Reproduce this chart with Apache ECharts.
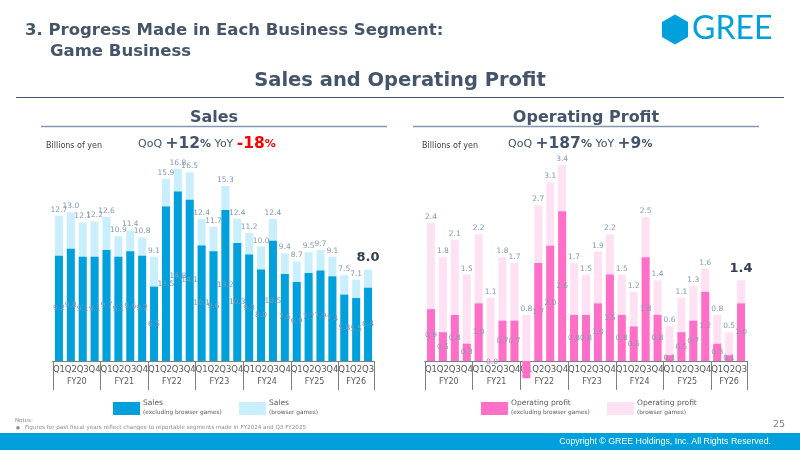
<!DOCTYPE html>
<html>
<head>
<meta charset="utf-8">
<script src="https://cdn.jsdelivr.net/npm/echarts@6/dist/echarts.min.js"></script>
<style>
html,body{margin:0;padding:0;background:#fff;}
#c{width:800px;height:450px;}
</style>
</head>
<body>
<div id="c"></div>
<script>
const fiscalYears = ['FY20','FY21','FY22','FY23','FY24','FY25','FY26'];
const quartersPerYear = [4,4,4,4,4,4,3];
const quarterNames = ['Q1','Q2','Q3','Q4'];
const salesTotal = [12.7,13.0,12.1,12.2, 12.6,10.9,11.4,10.8, 9.1,15.9,16.8,16.5, 12.4,11.7,15.3,12.4, 11.2,10.0,12.4,9.4, 8.7,9.5,9.7,9.1, 7.5,7.1,8.0];
const salesExclBrowser = [9.2,9.8,9.1,9.1, 9.7,9.1,9.6,9.2, 6.5,13.5,14.8,14.1, 10.1,9.6,13.2,10.3, 9.3,8.0,10.5,7.6, 6.9,7.7,7.9,7.4, 5.8,5.5,6.4];
const opTotal = [2.4,1.8,2.1,1.5, 2.2,1.1,1.8,1.7, 0.8,2.7,3.1,3.4, 1.7,1.5,1.9,2.2, 1.5,1.2,2.5,1.4, 0.6,1.1,1.3,1.6, 0.8,0.5,1.4];
const opExclBrowser = [0.9,0.5,0.8,0.3, 1.0,-0.02,0.7,0.7, -0.3,1.7,2.0,2.6, 0.8,0.8,1.0,1.5, 0.8,0.6,1.8,0.8, 0.1,0.5,0.7,1.2, 0.3,0.1,1.0];

const categories = [];
quartersPerYear.forEach(n => { for (let i = 0; i < n; i++) categories.push(quarterNames[i]); });
const boundaries = [0];
quartersPerYear.forEach(n => boundaries.push(boundaries[boundaries.length - 1] + n));
const yearCenters = fiscalYears.map((y, i) => (boundaries[i] + boundaries[i + 1]) / 2);

const FONT = 'DejaVu Sans';
const TITLE = '#44546a';
const LABEL = '#8497b0';
const AXIS = '#7f7f7f';
const fmt = v => Number(v).toFixed(1);

function xAxesFor(gridIndex) {
  return [
    {
      type: 'category', gridIndex, data: categories,
      axisLine: { lineStyle: { color: AXIS, width: 1 } },
      axisTick: { show: false },
      axisLabel: { interval: 0, fontSize: 8.5, color: '#595959', margin: 4, fontFamily: FONT },
      splitLine: { show: false }
    },
    {
      type: 'value', gridIndex, min: 0, max: categories.length, position: 'bottom',
      axisLine: { show: true, lineStyle: { color: AXIS, width: 1 } },
      axisTick: { show: true, customValues: boundaries, length: 29, lineStyle: { color: AXIS, width: 1 } },
      axisLabel: { show: true, customValues: yearCenters, margin: 17, fontSize: 8, color: '#595959', fontFamily: FONT,
        formatter: v => { const i = yearCenters.indexOf(v); return i >= 0 ? fiscalYears[i] : ''; } },
      splitLine: { show: false }
    }
  ];
}

function yAxisFor(gridIndex, min, max) {
  return {
    type: 'value', gridIndex, min, max, show: false,
    splitLine: { show: false }
  };
}

function seriesFor(gridIndex, totals, excl, light, dark) {
  const xi = gridIndex * 2;
  const last = totals.length - 1;
  return [
    {
      type: 'bar', xAxisIndex: xi, yAxisIndex: gridIndex, barWidth: 8, barGap: '-100%', clip: false,
      itemStyle: { color: light },
      label: { show: true, position: 'top', distance: 2, fontSize: 7.5, color: LABEL, fontFamily: FONT, formatter: p => fmt(p.value) },
      data: totals.map((v, i) => i === last
        ? { value: v, label: { fontSize: 13, fontWeight: 'bold', color: '#333f50', distance: 5 } }
        : v),
      z: 2
    },
    {
      type: 'bar', xAxisIndex: xi, yAxisIndex: gridIndex, barWidth: 8, barGap: '-100%', clip: false,
      itemStyle: { color: dark },
      label: { show: true, position: 'inside', fontSize: 7.5, color: LABEL, fontFamily: FONT, formatter: p => fmt(p.value) },
      data: excl.map(v => v < -0.05 ? { value: v, label: { show: false } } : v),
      z: 3
    }
  ];
}

function legendItem(x, color, t1, t2) {
  return [
    { type: 'rect', shape: { x: x, y: 402, width: 27, height: 13 }, style: { fill: color } },
    { type: 'text', x: x + 30, y: 399, style: { text: '{a|' + t1 + '}\n{b|' + t2 + '}', fill: '#595959', fontFamily: FONT,
      rich: { a: { fontSize: 7.5, lineHeight: 9, fill: '#595959', fontFamily: FONT }, b: { fontSize: 5.8, lineHeight: 8, fill: '#595959', fontFamily: FONT } } } }
  ];
}

function changeText(x, qoq, yoy, yoyColor) {
  return { type: 'text', x: x, y: 136, style: {
    text: '{n|QoQ }{b|' + qoq + '}{p|%}{n| YoY }{c|' + yoy + '}{q|%}',
    fontFamily: FONT,
    rich: {
      n: { fontSize: 11, fill: '#44546a', fontFamily: FONT },
      b: { fontSize: 15.5, fontWeight: 'bold', fill: '#44546a', fontFamily: FONT },
      p: { fontSize: 11, fontWeight: 'bold', fill: '#44546a', fontFamily: FONT },
      c: { fontSize: 15.5, fontWeight: 'bold', fill: yoyColor, fontFamily: FONT },
      q: { fontSize: 11, fontWeight: 'bold', fill: yoyColor, fontFamily: FONT }
    } } };
}

const graphics = [
  { type: 'text', x: 25, y: 22, style: { text: '3. Progress Made in Each Business Segment:', fontSize: 16.5, fontWeight: 'bold', fill: TITLE, fontFamily: FONT } },
  { type: 'text', x: 50, y: 43, style: { text: 'Game Business', fontSize: 16.5, fontWeight: 'bold', fill: TITLE, fontFamily: FONT } },
  { type: 'polygon', shape: { points: [[675, 14.5], [688, 22], [688, 37], [675, 44.5], [662, 37], [662, 22]] }, style: { fill: '#00a0dc' } },
  { type: 'text', x: 692, y: 13, style: { text: 'GREE', fontSize: 32, fill: '#00a0dc', fontFamily: 'Lato' } },
  { type: 'text', x: 400, y: 81, style: { text: 'Sales and Operating Profit', fontSize: 19.5, fontWeight: 'bold', fill: TITLE, fontFamily: FONT, align: 'center', verticalAlign: 'middle' } },
  { type: 'line', shape: { x1: 16, y1: 97.5, x2: 784, y2: 97.5 }, style: { stroke: TITLE, lineWidth: 1 } },
  { type: 'text', x: 214, y: 118, style: { text: 'Sales', fontSize: 16, fontWeight: 'bold', fill: TITLE, fontFamily: FONT, align: 'center', verticalAlign: 'middle' } },
  { type: 'line', shape: { x1: 41, y1: 126.5, x2: 387, y2: 126.5 }, style: { stroke: '#8497b0', lineWidth: 1.5 } },
  { type: 'text', x: 586, y: 118, style: { text: 'Operating Profit', fontSize: 16, fontWeight: 'bold', fill: TITLE, fontFamily: FONT, align: 'center', verticalAlign: 'middle' } },
  { type: 'line', shape: { x1: 413, y1: 126.5, x2: 759, y2: 126.5 }, style: { stroke: '#8497b0', lineWidth: 1.5 } },
  { type: 'text', x: 46, y: 142, style: { text: 'Billions of yen', fontSize: 8, fill: '#404040', fontFamily: FONT } },
  { type: 'text', x: 422, y: 142, style: { text: 'Billions of yen', fontSize: 8, fill: '#404040', fontFamily: FONT } },
  changeText(138, '+12', '-18', '#ff0000'),
  changeText(508, '+187', '+9', '#44546a'),
  ...legendItem(113, '#00a0dc', 'Sales', '(excluding browser games)'),
  ...legendItem(239, '#c9eefd', 'Sales', '(browser games)'),
  ...legendItem(481, '#ff6ec7', 'Operating profit', '(excluding browser games)'),
  ...legendItem(607, '#ffe1f3', 'Operating profit', '(browser games)'),
  { type: 'text', x: 15, y: 418, style: { text: 'Notes:', fontSize: 5.5, fill: '#8c8c8c', fontFamily: FONT } },
  { type: 'text', x: 16, y: 425, style: { text: '\u25CF', fontSize: 4.5, fill: '#8c8c8c', fontFamily: FONT } },
  { type: 'text', x: 25, y: 424.5, style: { text: 'Figures for past fiscal years reflect changes to reportable segments made in FY2024 and Q3 FY2025', fontSize: 5.6, fill: '#8c8c8c', fontFamily: FONT } },
  { type: 'text', x: 785, y: 420, style: { text: '25', fontSize: 9.5, fill: '#7f7f7f', fontFamily: FONT, align: 'right' } },
  { type: 'rect', shape: { x: 0, y: 433, width: 800, height: 17 }, style: { fill: '#00a0dc' } },
  { type: 'text', x: 771, y: 442, style: { text: 'Copyright \u00A9 GREE Holdings, Inc. All Rights Reserved.', fontSize: 8.8, fill: '#ffffff', fontFamily: 'Liberation Sans', align: 'right', verticalAlign: 'middle' } }
];

const chart = echarts.init(document.getElementById('c'), null, { renderer: 'canvas' });
chart.setOption({
  animation: false,
  backgroundColor: '#ffffff',
  textStyle: { fontFamily: FONT },
  grid: [
    { left: 53, width: 321, top: 155, height: 206 },
    { left: 425, width: 322, top: 159.4, height: 201.6 }
  ],
  xAxis: [...xAxesFor(0), ...xAxesFor(1)],
  yAxis: [yAxisFor(0, 0, 18), yAxisFor(1, 0, 3.5)],
  series: [
    ...seriesFor(0, salesTotal, salesExclBrowser, '#c9eefd', '#00a0dc'),
    ...seriesFor(1, opTotal, opExclBrowser, '#ffe1f3', '#ff6ec7')
  ],
  graphic: graphics
});
</script>
</body>
</html>
